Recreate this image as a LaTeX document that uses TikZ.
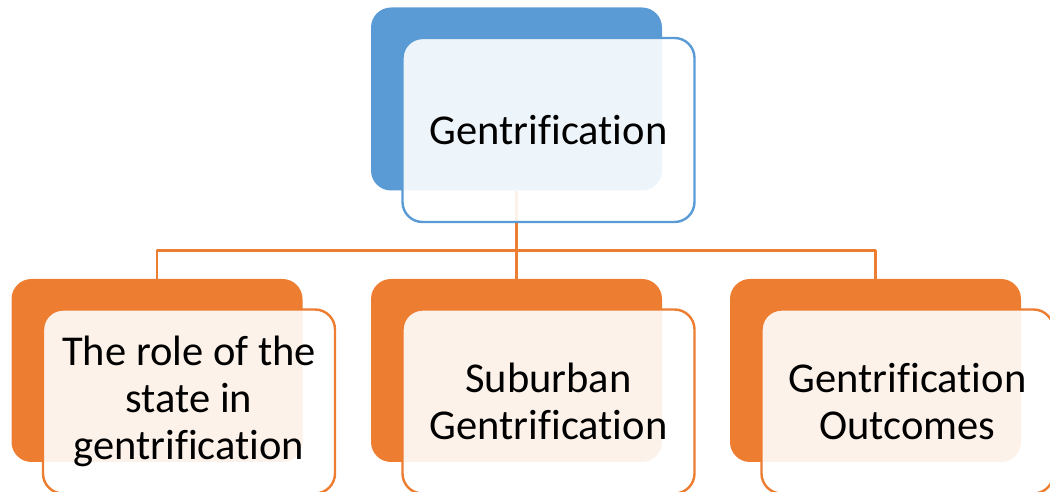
\documentclass[tikz,border=0pt]{standalone}
\usepackage{fontspec}
\setmainfont[Ligatures=NoCommon]{Carlito}
\usetikzlibrary{calc, positioning}
\definecolor{hierblue}{HTML}{5B9BD5}
\definecolor{hierorange}{HTML}{ED7D31}

\begin{document}
\begin{tikzpicture}[x=1pt, y=1pt, line join=round,
  back/.style={rectangle, rounded corners=20pt, minimum width=291pt, minimum height=183pt, inner sep=0pt},
  front/.style={rectangle, rounded corners=20pt, draw, line width=2.4pt, fill=white, fill opacity=0.9, text opacity=1, text=black, minimum width=292pt, minimum height=184pt, inner sep=0pt, align=center, font=\fontsize{42.5}{47}\selectfont},
  link/.style={draw=hierorange, line width=2.4pt}]
\useasboundingbox (0,0) rectangle (1050,492);
\clip (0,0) rectangle (1050,492);

% Dark back plates
\node[back, fill=hierblue] (gentback) at (516.5,393) {};
\node[back, fill=hierorange] (stateback) at (157,121.5) {};
\node[back, fill=hierorange] (suburbback) at (516.5,121.5) {};
\node[back, fill=hierorange] (outcomeback) at (875.5,121.5) {};

% Connectors, under the front boxes
\coordinate (hub) at ($(gentback.south)+(0,-60)$);
\draw[link] (gentback.south) -- (hub);
\draw[link] (hub) -| (stateback.north);
\draw[link] (hub) -- (suburbback.north);
\draw[link] (hub) -| (outcomeback.north);

% Front boxes with the texts
\node[front, draw=hierblue] (gent) at ($(gentback)+(32,-31)$) {Gentrification};
\node[front, draw=hierorange] (state) at ($(stateback)+(32,-31)$) {The role of the\\state in\\gentrification};
\node[front, draw=hierorange] (suburb) at ($(suburbback)+(32,-31)$) {Suburban\\Gentrification};
\node[front, draw=hierorange] (outcome) at ($(outcomeback)+(32,-31)$) {Gentrification\\Outcomes};
\end{tikzpicture}
\end{document}
